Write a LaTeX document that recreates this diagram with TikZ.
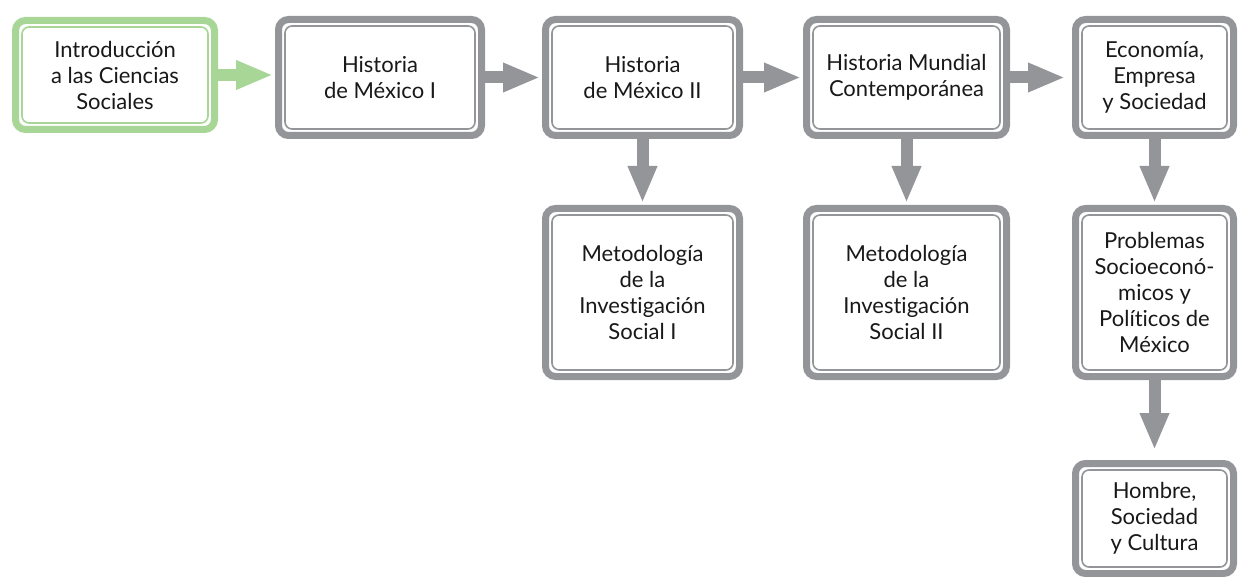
\documentclass[tikz,border=0pt]{standalone}
\usepackage{fontspec}
\setmainfont{Lato}[Ligatures=NoCommon]
\usepackage{tikz}
\usetikzlibrary{arrows.meta}
\definecolor{boxgray}{RGB}{147,149,152}
\definecolor{boxgreen}{RGB}{168,214,150}
\tikzset{
    course/.style={
        draw=#1,
        line width=7pt,
        rounded corners=10pt,
        fill=white,
        align=center,
        inner sep=0pt,
        text=black!90,
        font=\fontsize{22}{26}\selectfont,
        path picture={
            \draw[#1, line width=1.6pt, rounded corners=7pt]
                ([shift={(6.5pt,6.5pt)}]path picture bounding box.south west)
                rectangle ([shift={(-6.5pt,-6.5pt)}]path picture bounding box.north east);
        }
    },
    course/.default=boxgray,
    flow/.style={
        draw=#1,
        line width=12pt,
        -{Triangle[length=37pt, width=27pt]},
        shorten >=2pt
    },
    flow/.default=boxgray
}

\begin{document}
\begin{tikzpicture}[x=1pt, y=-1pt]
    \useasboundingbox (0,0) rectangle (1239,577);

    % Top row of courses
    \node[course=boxgreen, minimum width=199pt, minimum height=109pt] (ics) at (115,75)
        {Introducción\\a las Ciencias\\Sociales};
    \node[course, minimum width=203pt, minimum height=116pt] (hm1) at (380,77.5)
        {Historia\\de México I};
    \node[course, minimum width=194pt, minimum height=116pt] (hm2) at (642.5,77.5)
        {Historia\\de México II};
    \node[course, minimum width=200pt, minimum height=116pt] (hmc) at (906.5,77.5)
        {Historia Mundial\\Contemporánea};
    \node[course, minimum width=158pt, minimum height=116pt] (ees) at (1154.5,77.5)
        {Economía,\\Empresa\\y Sociedad};

    % Second row
    \node[course, minimum width=194pt, minimum height=168pt] (mis1) at (642.5,292.5)
        {Metodología\\de la\\Investigación\\Social I};
    \node[course, minimum width=200pt, minimum height=168pt] (mis2) at (906.5,292.5)
        {Metodología\\de la\\Investigación\\Social II};
    \node[course, minimum width=158pt, minimum height=168pt] (psp) at (1154.5,292.5)
        {Problemas\\Socioeconó-\\micos y\\Políticos de\\México};

    % Last course
    \node[course, minimum width=158pt, minimum height=110pt] (hsc) at (1154.5,518.5)
        {Hombre,\\Sociedad\\y Cultura};

    % Sequence arrows
    \draw[flow=boxgreen] (ics.east) -- (ics.east -| hm1.west);
    \draw[flow] (hm1) -- (hm2);
    \draw[flow] (hm2) -- (hmc);
    \draw[flow, shorten >=7pt] (hmc) -- (ees);
    \draw[flow] (hm2) -- (mis1);
    \draw[flow] (hmc) -- (mis2);
    \draw[flow] (ees) -- (psp);
    \draw[flow, shorten >=10pt] (psp) -- (hsc);
\end{tikzpicture}
\end{document}
